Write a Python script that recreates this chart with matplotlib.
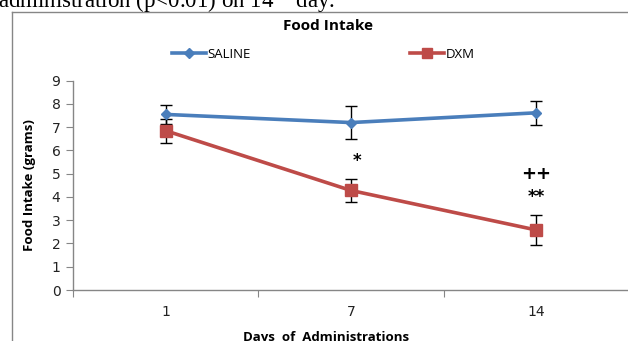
import numpy as np
import matplotlib.pyplot as plt
from matplotlib.lines import Line2D

# Food intake data (grams)
days = ['1', '7', '14']
saline = [7.55, 7.2, 7.62]
saline_err = [0.4, 0.72, 0.52]
dxm = [6.85, 4.28, 2.58]
dxm_err = [0.52, 0.5, 0.66]
marks_7 = ['*']
marks_14 = ['++', '**']

blue = '#4A7EBB'
red = '#BE4B48'
grey = '#868686'

fig = plt.figure(figsize=(6.28, 3.41), dpi=100)
ax = fig.add_axes([73 / 628, 1 - 290 / 341, 556 / 628, 209.3 / 341])

x = np.arange(len(days))
ax.errorbar(x, saline, yerr=saline_err, color=blue, lw=2.6, marker='D', ms=5.5,
            ecolor='black', elinewidth=1, capsize=4, capthick=1, zorder=3)
ax.errorbar(x, dxm, yerr=dxm_err, color=red, lw=2.6, marker='s', ms=8,
            ecolor='black', elinewidth=1, capsize=4, capthick=1, zorder=3)

# significance marks
ax.text(x[1] + 0.03, 5.55, marks_7[0], ha='center', va='center', fontsize=12,
        fontweight='bold')
ax.text(x[2], 5.0, marks_14[0], ha='center', va='center', fontsize=13,
        fontweight='bold')
ax.text(x[2], 4.02, marks_14[1], ha='center', va='center', fontsize=12,
        fontweight='bold')

ax.set_xlim(-0.5, 2.5)
ax.set_ylim(0, 9)
ax.set_yticks(range(10))
ax.set_xticks([-0.5, 0.5, 1.5, 2.5])
ax.set_xticklabels([])
ax.set_xticks(x, minor=True)
ax.set_xticklabels(days, minor=True)
ax.tick_params(axis='x', which='major', length=5, color=grey, direction='out')
ax.tick_params(axis='x', which='minor', length=0, pad=11, labelsize=10,
               labelcolor='#222222')
ax.tick_params(axis='y', length=5, color=grey, labelsize=10, pad=4,
               labelcolor='#222222')
for s in ['top', 'right']:
    ax.spines[s].set_visible(False)
for s in ['left', 'bottom']:
    ax.spines[s].set_color(grey)
    ax.spines[s].set_linewidth(1)

ax.set_ylabel('Food Intake (grams)', fontsize=9.5, fontweight='bold',
              family='Open Sans')
ax.yaxis.set_label_coords(-0.067, 0.5)
ax.set_xlabel('Days  of  Administrations', fontsize=9.5, fontweight='bold',
              family='Open Sans')
ax.xaxis.set_label_coords(0.455, -0.195)

fig.text(328 / 628, 1 - 26 / 341, 'Food Intake', ha='center', va='center',
         fontsize=11, fontweight='bold', family='Open Sans')

h1 = Line2D([], [], color=blue, lw=2.6, marker='D', ms=5)
h2 = Line2D([], [], color=red, lw=2.6, marker='s', ms=7)
fig.legend([h1], ['SALINE'], loc='center left', bbox_to_anchor=(160 / 628, 1 - 54 / 341),
           frameon=False, handlelength=2.6, handletextpad=0.1, prop={'family': 'Open Sans', 'size': 9.5})
fig.legend([h2], ['DXM'], loc='center left', bbox_to_anchor=(398 / 628, 1 - 54 / 341),
           frameon=False, handlelength=2.6, handletextpad=0.1, prop={'family': 'Open Sans', 'size': 9.5})

# chart border and cropped caption above it
fig.add_artist(Line2D([12 / 628, 12 / 628], [0, 1 - 12 / 341], color=grey, lw=1))
fig.add_artist(Line2D([12 / 628, 1], [1 - 12 / 341, 1 - 12 / 341], color=grey, lw=1))
fig.text(-2 / 628, 1 - 8 / 341, 'administration (p<0.01) on 14$^{th}$ day.',
         ha='left', va='baseline', fontsize=16.5, family='Liberation Serif')

fig.savefig('out.png', dpi=100)
